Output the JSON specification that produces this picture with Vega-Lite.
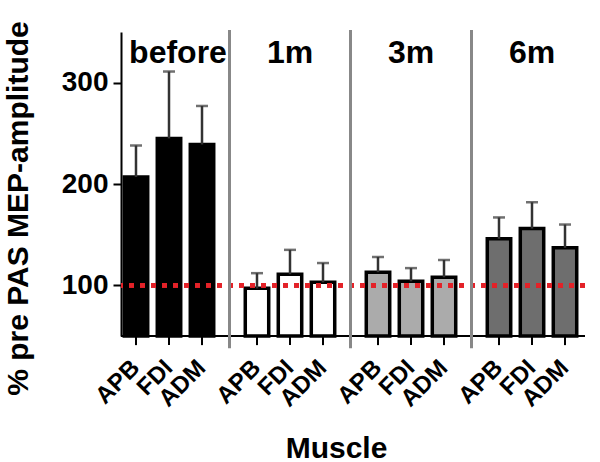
{
  "$schema": "https://vega.github.io/schema/vega-lite/v6.json",
  "width": 464,
  "height": 304,
  "autosize": {"type": "none"},
  "padding": {"left": 121, "top": 32, "right": 15, "bottom": 126},
  "background": "white",
  "config": {"view": {"stroke": null}, "font": "Liberation Sans"},
  "data": {"values": [
    {"group": "before", "muscle": "APB", "value": 207, "err": 238},
    {"group": "before", "muscle": "FDI", "value": 245, "err": 311},
    {"group": "before", "muscle": "ADM", "value": 239, "err": 277},
    {"group": "1m", "muscle": "APB", "value": 97, "err": 112},
    {"group": "1m", "muscle": "FDI", "value": 111, "err": 135},
    {"group": "1m", "muscle": "ADM", "value": 103, "err": 122},
    {"group": "3m", "muscle": "APB", "value": 113, "err": 128},
    {"group": "3m", "muscle": "FDI", "value": 104, "err": 117},
    {"group": "3m", "muscle": "ADM", "value": 108, "err": 125},
    {"group": "6m", "muscle": "APB", "value": 146, "err": 167},
    {"group": "6m", "muscle": "FDI", "value": 156, "err": 182},
    {"group": "6m", "muscle": "ADM", "value": 137, "err": 160}
  ]},
  "layer": [
    {
      "mark": {"type": "bar", "stroke": "black", "strokeWidth": 3.5},
      "encoding": {
        "x": {"field": "group", "type": "nominal", "sort": ["before", "1m", "3m", "6m"],
          "scale": {"range": [-12.5, 471.5], "paddingInner": 0, "paddingOuter": 0},
          "axis": {"title": "Muscle", "domain": false, "ticks": false, "labels": false,
            "titleFontSize": 30, "titleFontWeight": "bold", "titleColor": "black",
            "titleX": 215, "titleY": 121, "titleBaseline": "alphabetic"}},
        "xOffset": {"field": "muscle", "type": "nominal", "sort": ["APB", "FDI", "ADM"],
          "scale": {"paddingInner": 0.29, "paddingOuter": 0.478}},
        "y": {"field": "value", "type": "quantitative",
          "scale": {"domain": [50, 350], "nice": false, "zero": false},
          "axis": {"title": "% pre PAS MEP-amplitude", "values": [100, 200, 300], "grid": false,
            "domainColor": "black", "domainWidth": 2, "tickColor": "black", "tickWidth": 2, "tickSize": 8,
            "labelFontSize": 28, "labelFontWeight": "bold", "labelColor": "black", "labelPadding": 5,
            "titleFontSize": 30, "titleFontWeight": "bold", "titleColor": "black",
            "titleAngle": 270, "titleX": -94, "titleY": 176, "titleBaseline": "alphabetic", "titleAlign": "center"}},
        "y2": {"datum": 50},
        "color": {"field": "group", "type": "nominal",
          "scale": {"domain": ["before", "1m", "3m", "6m"], "range": ["#000000", "#ffffff", "#ababab", "#6e6e6e"]},
          "legend": null}
      }
    },
    {
      "mark": {"type": "rule", "color": "#e32228", "strokeWidth": 4, "strokeDash": [5, 6]},
      "encoding": {"y": {"datum": 100}}
    },
    {
      "mark": {"type": "rule", "color": "#333333", "strokeWidth": 2.5},
      "encoding": {
        "x": {"field": "group", "type": "nominal", "sort": ["before", "1m", "3m", "6m"]},
        "xOffset": {"field": "muscle", "type": "nominal", "sort": ["APB", "FDI", "ADM"]},
        "y": {"field": "value", "type": "quantitative"},
        "y2": {"field": "err"}
      }
    },
    {
      "mark": {"type": "tick", "color": "#333333", "thickness": 2.5, "size": 12, "orient": "horizontal"},
      "encoding": {
        "x": {"field": "group", "type": "nominal", "sort": ["before", "1m", "3m", "6m"]},
        "xOffset": {"field": "muscle", "type": "nominal", "sort": ["APB", "FDI", "ADM"]},
        "y": {"field": "err", "type": "quantitative"}
      }
    },
    {
      "mark": {"type": "rule", "color": "black", "strokeWidth": 2},
      "encoding": {"y": {"datum": 50}}
    },
    {
      "transform": [{"filter": "datum.muscle === 'APB' && datum.group !== 'before'"}],
      "mark": {"type": "rule", "color": "#888888", "strokeWidth": 3},
      "encoding": {
        "x": {"field": "group", "type": "nominal", "sort": ["before", "1m", "3m", "6m"], "bandPosition": 0},
        "y": {"datum": 352},
        "y2": {"datum": 38}
      }
    },
    {
      "mark": {"type": "rule", "color": "black", "strokeWidth": 2},
      "encoding": {
        "x": {"field": "group", "type": "nominal", "sort": ["before", "1m", "3m", "6m"]},
        "xOffset": {"field": "muscle", "type": "nominal", "sort": ["APB", "FDI", "ADM"]},
        "y": {"datum": 50},
        "y2": {"datum": 41}
      }
    },
    {
      "mark": {"type": "text", "angle": -45, "align": "right", "baseline": "middle", "fontSize": 24, "fontWeight": "bold", "color": "black"},
      "encoding": {
        "x": {"field": "group", "type": "nominal", "sort": ["before", "1m", "3m", "6m"]},
        "xOffset": {"field": "muscle", "type": "nominal", "sort": ["APB", "FDI", "ADM"]},
        "y": {"datum": 22},
        "text": {"field": "muscle"}
      }
    },
    {
      "transform": [{"filter": "datum.muscle === 'APB' && datum.group !== 'before'"}],
      "mark": {"type": "text", "align": "center", "baseline": "alphabetic", "fontSize": 32, "fontWeight": "bold", "color": "black"},
      "encoding": {
        "x": {"field": "group", "type": "nominal", "sort": ["before", "1m", "3m", "6m"]},
        "y": {"datum": 319},
        "text": {"field": "group"}
      }
    },
    {
      "transform": [{"filter": "datum.muscle === 'APB' && datum.group === 'before'"}],
      "mark": {"type": "text", "align": "center", "baseline": "alphabetic", "fontSize": 32, "fontWeight": "bold", "color": "black", "dx": 9},
      "encoding": {
        "x": {"field": "group", "type": "nominal", "sort": ["before", "1m", "3m", "6m"]},
        "y": {"datum": 319},
        "text": {"field": "group"}
      }
    }
  ]
}
